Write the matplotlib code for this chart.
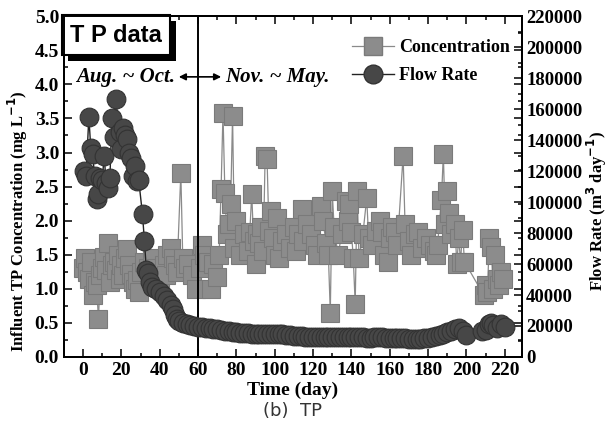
import numpy as np
import matplotlib
matplotlib.use("Agg")
import matplotlib.pyplot as plt
from matplotlib.ticker import MultipleLocator
from matplotlib.lines import Line2D
import matplotlib.patheffects as pe

# influent TP concentration (mg/L)
conc_day = [0, 1, 2, 3, 4, 5, 6, 7, 8, 9, 10, 11, 12, 13, 14, 15, 16, 17, 18, 19,
            20, 21, 22, 23, 24, 25, 26, 27, 28, 29, 30, 32, 34, 36, 38, 40, 42, 43, 44, 46,
            47, 48, 49, 51, 52, 53, 55, 57, 59, 61, 62, 63, 65, 67, 68, 70, 71, 72, 73, 74,
            75, 76, 77, 78, 79, 80, 82, 84, 86, 87, 88, 89, 90, 91, 92, 93, 94, 95, 96, 97,
            98, 99, 100, 101, 102, 104, 106, 108, 110, 111, 112, 114, 115, 117, 119, 121, 122, 124, 125, 127,
            128, 129, 130, 131, 133, 135, 137, 138, 139, 140, 141, 142, 143, 144, 146, 148, 149, 151, 153, 155,
            156, 157, 159, 160, 161, 163, 164, 167, 168, 170, 171, 173, 175, 177, 179, 181, 183, 184, 185, 187,
            188, 189, 190, 191, 192, 194, 195, 196, 197, 198, 199, 209, 210, 211, 212, 213, 214, 215, 216, 217,
            218, 219]
conc_val = [1.30, 1.45, 1.25, 1.15, 1.40, 0.91, 1.10, 1.06, 0.55, 1.20, 1.30, 1.47, 1.28, 1.67, 1.10, 1.35, 1.40, 1.28, 1.50, 1.15,
            1.35, 1.20, 1.45, 1.58, 1.35, 1.22, 1.10, 1.00, 1.13, 0.96, 1.25, 1.40, 1.30, 1.45, 1.30, 1.15, 1.35, 1.20, 1.50, 1.60,
            1.45, 1.35, 1.25, 2.70, 1.45, 1.30, 1.36, 1.20, 1.00, 1.30, 1.65, 1.50, 1.40, 1.00, 1.36, 1.18, 1.50, 2.46, 3.58, 2.40,
            1.80, 1.95, 2.24, 3.54, 1.60, 2.00, 1.50, 1.80, 1.55, 1.84, 2.39, 1.70, 1.36, 1.80, 1.67, 1.90, 1.55, 2.95, 2.90, 1.85,
            2.14, 1.75, 1.50, 2.04, 1.45, 1.70, 1.80, 1.60, 1.90, 1.55, 1.80, 2.17, 1.70, 1.95, 1.80, 1.65, 1.50, 2.21, 2.00, 1.67,
            1.50, 0.65, 2.43, 1.90, 1.50, 1.80, 2.29, 2.00, 2.24, 1.84, 1.45, 0.77, 2.43, 1.45, 1.80, 2.33, 1.75, 1.65, 1.85, 2.00,
            1.84, 1.50, 1.40, 1.75, 1.90, 1.84, 1.65, 2.95, 1.95, 1.70, 1.50, 1.80, 1.84, 1.60, 1.75, 1.65, 1.55, 1.50, 1.65, 2.31,
            2.98, 1.95, 2.43, 2.11, 1.80, 1.95, 1.37, 1.74, 1.40, 1.87, 1.40, 0.91, 1.06, 0.95, 1.74, 1.62, 1.00, 1.50, 1.15, 1.06,
            1.25, 1.15]

# influent flow rate (m3/day)
flow_day = [0.5, 1.5, 3, 4, 5, 6, 7, 8, 9, 10, 11, 12, 13, 14, 15, 16, 17, 19, 20, 21,
            22, 23, 24, 25, 26, 27, 28, 29, 31, 32, 33, 34, 35, 36, 38, 40, 42, 44, 46, 47,
            48, 49, 50, 52, 54, 56, 58, 60, 62, 64, 66, 68, 70, 72, 74, 76, 78, 80, 82, 84,
            86, 88, 90, 92, 94, 96, 98, 100, 102, 104, 106, 108, 110, 112, 114, 116, 118, 120, 122, 124,
            126, 128, 130, 132, 134, 136, 138, 140, 142, 144, 146, 148, 150, 152, 154, 156, 158, 160, 162, 164,
            166, 168, 170, 172, 174, 176, 178, 180, 182, 184, 186, 188, 190, 192, 194, 196, 198, 200, 208, 210,
            212, 213, 214, 216, 218, 220]
flow_val = [120000, 116600, 155000, 135000, 131000, 116600, 102000, 105000, 115700, 114400,
            130000, 112200, 109000, 115700, 154000, 141700, 166800, 145000, 134000, 147800,
            143000, 140800, 132000, 128500, 116600, 123200, 113500, 114400, 92000, 74800,
            56300, 54000, 48400, 45300, 44000, 42200, 39600, 37000, 33400, 31200,
            27000, 24500, 22900, 21800, 21100, 20700, 20000, 19400, 19200, 19000,
            18700, 18300, 18000, 17500, 17000, 16600, 16200, 15900, 15600, 15400,
            15200, 15100, 15000, 15000, 14900, 14800, 14800, 14700, 14600, 14600,
            14500, 14400, 13800, 13500, 13300, 13200, 13100, 13000, 13000, 12900,
            12800, 13000, 13100, 13000, 12900, 12800, 12900, 13000, 12800, 12700,
            12600, 12500, 12400, 12800, 12700, 12600, 12500, 12400, 12300, 12200,
            12100, 12000, 11800, 11700, 11700, 11800, 12000, 12200, 12800, 13500,
            14000, 15000, 16000, 17000, 18000, 18500, 17000, 14500, 16500, 17500,
            21000, 22000, 20500, 19000, 21000, 19500]

plt.rcParams["font.family"] = ["Liberation Serif", "DejaVu Serif"]
plt.rcParams["font.weight"] = "bold"
plt.rcParams["axes.labelweight"] = "bold"

fig = plt.figure(figsize=(6.09, 4.38), dpi=100)
ax = fig.add_axes([0.105, 0.185, 0.752, 0.778])
ax2 = ax.twinx()

sq_col = "#8c8c8c"
ci_col = "#474747"

ax.plot(conc_day, conc_val, color="#8a8a8a", lw=0.9, marker="s", ms=12.5,
        mfc=sq_col, mec="#7a7a7a", mew=0.8, zorder=3)
ax2.plot(flow_day, flow_val, color="#222222", lw=1.0, marker="o", ms=13.5,
         mfc=ci_col, mec="#333333", mew=0.8, zorder=3)

ax.set_xlim(-10, 229)
ax.set_ylim(0, 5.0)
ax2.set_ylim(0, 220000)

ax.axvline(60, color="black", lw=1.4, zorder=4)

ax.xaxis.set_major_locator(MultipleLocator(20))
ax.xaxis.set_minor_locator(MultipleLocator(10))
ax.yaxis.set_major_locator(MultipleLocator(0.5))
ax.yaxis.set_minor_locator(MultipleLocator(0.25))
ax2.yaxis.set_major_locator(MultipleLocator(20000))
ax2.yaxis.set_minor_locator(MultipleLocator(10000))

ax.tick_params(which="both", direction="in", top=True, right=True, width=1.1,
               labelsize=14)
ax.tick_params(which="major", length=6)
ax.tick_params(which="minor", length=3)
ax2.tick_params(which="both", direction="in", width=1.1, labelsize=13.5, pad=3)
ax2.tick_params(which="major", length=6)
ax2.tick_params(which="minor", length=3)
ax.yaxis.set_major_formatter(plt.FormatStrFormatter("%.1f"))

for a in (ax, ax2):
    for s in a.spines.values():
        s.set_linewidth(1.4)

ax.set_xlabel("Time (day)", fontsize=14, labelpad=2)
ax.set_ylabel("Influent TP Concentration (mg L$^{\\mathbf{-1}}$)", fontsize=12, labelpad=3)
ax.yaxis.set_label_coords(-0.075, 0.40)
ax2.set_ylabel("Flow Rate (m$^{\\mathbf{3}}$ day$^{\\mathbf{-1}}$)", fontsize=12, labelpad=4)
ax2.yaxis.set_label_coords(1.137, 0.43)

# T P data box with drop shadow
tp = ax.text(0.014, 0.978, "T P data", transform=ax.transAxes, color="black",
             fontsize=17, fontweight="bold", family="Liberation Sans",
             ha="left", va="top", zorder=6,
             bbox=dict(boxstyle="square,pad=0.35", fc="white", ec="black", lw=1.5))
tp.get_bbox_patch().set_path_effects(
    [pe.SimplePatchShadow(offset=(4, -4), shadow_rgbFace="black", alpha=1.0), pe.Normal()])

ax.text(48, 4.11, "Aug. ~ Oct.", ha="right", va="center", fontsize=15, style="italic")
ax.text(74, 4.11, "Nov. ~ May.", ha="left", va="center", fontsize=15, style="italic")
ax.annotate("", xy=(48.5, 4.11), xytext=(73.5, 4.11),
            arrowprops=dict(arrowstyle="<|-|>", color="black", lw=1.2, mutation_scale=10))

handles = [Line2D([], [], color="#8a8a8a", lw=0.9, marker="s", ms=12.5, mfc=sq_col, mec="#7a7a7a"),
           Line2D([], [], color="#222222", lw=1.0, marker="o", ms=13.5, mfc=ci_col, mec="#333333")]
ax2.legend(handles, ["Concentration", "Flow Rate"], loc="upper right",
           bbox_to_anchor=(1.01, 0.98), frameon=False, fontsize=13,
           handlelength=2.3, handletextpad=0.3, labelspacing=0.6)

fig.text(0.48, 0.062, "(b)  TP", ha="center", va="center", fontsize=13,
         family="DejaVu Sans", fontweight="normal", color="#333333")

fig.savefig("out.png", dpi=100)
